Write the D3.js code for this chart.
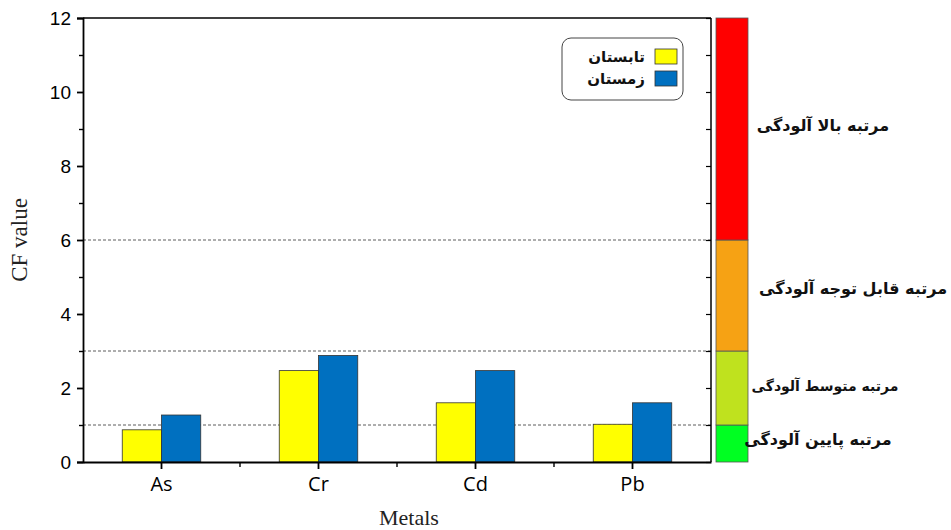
<!DOCTYPE html>
<html><head><meta charset="utf-8">
<script src="https://cdn.jsdelivr.net/npm/d3@7"></script>
<style>body{margin:0;background:#fff}svg{display:block}</style>
</head><body><svg id="c" width="951" height="530"></svg>
<script>
const categories = ["As", "Cr", "Cd", "Pb"];
const summer = [0.87, 2.47, 1.60, 1.02];
const winter = [1.27, 2.88, 2.47, 1.60];
const seriesNames = ["تابستان", "زمستان"];
const yTicks = [0, 2, 4, 6, 8, 10, 12];
const thresholds = [1, 3, 6];
const levels = [
  {from: 0, to: 1, label: "مرتبه پایین آلودگی"},
  {from: 1, to: 3, label: "مرتبه متوسط آلودگی"},
  {from: 3, to: 6, label: "مرتبه قابل توجه آلودگی"},
  {from: 6, to: 12, label: "مرتبه بالا آلودگی"}
];
const levelColors = ["#00ff22", "#bfe21e", "#f6a214", "#ff0000"];
const seriesColors = ["#ffff00", "#0070c0"];

const svg = d3.select("#c");
const L = 83, R = 711, T = 18, B = 462;
const x = d3.scaleBand().domain(categories).range([L, R]).paddingInner(0.5).paddingOuter(0.25);
const xs = d3.scaleBand().domain([0, 1]).range([0, x.bandwidth()]);
const y = d3.scaleLinear().domain([0, 12]).range([B, T]);

// threshold dashed lines
svg.append("g").selectAll("line").data(thresholds).join("line")
  .attr("x1", L).attr("x2", R).attr("y1", d => y(d)).attr("y2", d => y(d))
  .attr("stroke", "#333").attr("stroke-width", 0.8).attr("stroke-dasharray", "3,2");

// bars
const series = [summer, winter];
series.forEach((vals, si) => {
  svg.append("g").selectAll("rect").data(categories).join("rect")
    .attr("x", c => x(c) + xs(si)).attr("width", xs.bandwidth())
    .attr("y", (c, i) => y(vals[i])).attr("height", (c, i) => B - y(vals[i]))
    .attr("fill", seriesColors[si]).attr("stroke", "#333").attr("stroke-width", 0.8);
});

// frame
svg.append("line").attr("x1", L).attr("x2", R).attr("y1", T).attr("y2", T).attr("stroke", "#000").attr("stroke-width", 1.5);
svg.append("line").attr("x1", R).attr("x2", R).attr("y1", T).attr("y2", B).attr("stroke", "#000").attr("stroke-width", 1.5);

// right inward ticks
svg.append("g").attr("transform", `translate(${R},0)`)
  .call(d3.axisLeft(y).tickValues(d3.range(0, 13, 1)).tickSize(5).tickFormat(""))
  .call(g => g.select(".domain").remove())
  .call(g => g.selectAll("line").attr("stroke-width", 1.2));

// left axis
const yAxis = svg.append("g").attr("transform", `translate(${L},0)`)
  .call(d3.axisLeft(y).tickValues(yTicks).tickSize(6).tickPadding(6).tickFormat(d3.format("d")));
yAxis.select(".domain").attr("stroke-width", 1.8);
yAxis.selectAll("line").attr("stroke-width", 1.8);
yAxis.selectAll("text").attr("font-family", "Liberation Sans, Arial, sans-serif").attr("font-size", 19).attr("fill", "#000");
svg.append("g").attr("transform", `translate(${L},0)`)
  .call(d3.axisLeft(y).tickValues(d3.range(1, 12, 2)).tickSize(4).tickFormat(""))
  .call(g => g.select(".domain").remove())
  .call(g => g.selectAll("line").attr("stroke-width", 1.4));

// bottom axis
const xAxis = svg.append("g").attr("transform", `translate(0,${B})`)
  .call(d3.axisBottom(x).tickSize(7).tickPadding(8).tickSizeOuter(0));
xAxis.select(".domain").attr("stroke-width", 1.8);
xAxis.selectAll("line").attr("stroke-width", 1.8);
xAxis.selectAll("text").attr("font-family", "Open Sans, Liberation Sans, sans-serif").attr("font-size", 20).attr("fill", "#000");
const step = x.step();
const bounds = categories.slice(1).map(c => x(c) - (step - x.bandwidth()) / 2);
svg.append("g").selectAll("line").data(bounds).join("line")
  .attr("x1", d => d).attr("x2", d => d).attr("y1", B).attr("y2", B + 5)
  .attr("stroke", "#000").attr("stroke-width", 1.4);

// axis titles
svg.append("text").attr("x", L + (R - L) / 2 + 12).attr("y", 525)
  .attr("text-anchor", "middle").attr("font-family", "Liberation Serif, Times New Roman, serif")
  .attr("font-size", 22).attr("fill", "#222").text("Metals");
svg.append("text").attr("transform", `translate(27,${y(6)}) rotate(-90)`)
  .attr("text-anchor", "middle").attr("font-family", "Liberation Serif, Times New Roman, serif")
  .attr("font-size", 23).attr("fill", "#222").text("CF value");

// color bar
const cbX = 716, cbW = 32;
svg.append("g").selectAll("rect").data(levels).join("rect")
  .attr("x", cbX).attr("width", cbW)
  .attr("y", d => y(d.to)).attr("height", d => y(d.from) - y(d.to))
  .attr("fill", (d, i) => levelColors[i]).attr("stroke", "#555").attr("stroke-width", 0.8);
const labelX = [818, 825, 853, 823];
svg.append("g").selectAll("text").data(levels).join("text")
  .attr("x", (d, i) => labelX[i])
  .attr("y", (d, i) => [y(0.58), y(2.03), y(4.67), y(9.08)][i])
  .attr("text-anchor", "middle").attr("dominant-baseline", "middle")
  .attr("direction", "rtl").attr("unicode-bidi", "plaintext")
  .attr("font-family", "DejaVu Sans, sans-serif").attr("font-weight", "bold")
  .attr("font-size", (d, i) => i === 1 ? 14 : 16).attr("fill", "#111").text(d => d.label);

// legend
const lg = svg.append("g");
lg.append("rect").attr("x", 562).attr("y", 38).attr("width", 121).attr("height", 62)
  .attr("rx", 9).attr("fill", "#fff").attr("stroke", "#444").attr("stroke-width", 1);
seriesNames.forEach((n, i) => {
  lg.append("rect").attr("x", 655).attr("y", 49 + i * 22).attr("width", 22).attr("height", 15)
    .attr("fill", seriesColors[i]).attr("stroke", "#333").attr("stroke-width", 0.8);
  lg.append("text").attr("x", 645).attr("y", 57 + i * 22).attr("text-anchor", "start")
    .attr("dominant-baseline", "middle").attr("direction", "rtl").attr("unicode-bidi", "plaintext")
    .attr("font-family", "DejaVu Sans, sans-serif").attr("font-weight", "bold")
    .attr("font-size", 15).attr("fill", "#111").text(n);
});
</script></body></html>
